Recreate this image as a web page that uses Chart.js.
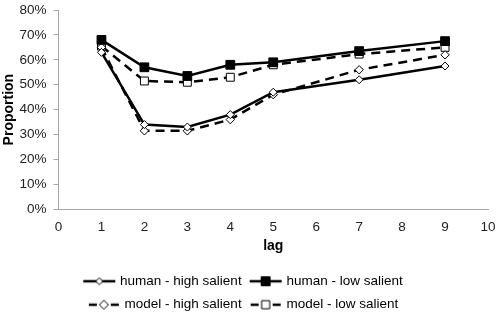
<!DOCTYPE html>
<html>
<head>
<meta charset="utf-8">
<script src="https://cdn.jsdelivr.net/npm/chart.js@4/dist/chart.umd.min.js"></script>
<style>
  html, body { margin: 0; padding: 0; background: #fff; }
  #wrap { width: 500px; height: 315px; }
</style>
</head>
<body>
<div id="wrap"><canvas id="c" width="500" height="315"></canvas></div>
<script>
const lags = [1, 2, 3, 4, 5, 7, 9];
const humanHigh = [63, 34, 33, 38, 47, 52, 57.5];
const humanLow = [68, 57, 53.5, 58, 59, 63.5, 67.5];
const modelHigh = [65, 31.5, 31.5, 36, 46, 56, 62];
const modelLow = [65.5, 51.5, 51, 53, 58, 62.3, 65];
const seriesLabels = ['human - high salient', 'human - low salient', 'model - high salient', 'model - low salient'];
const yTicks = [0, 10, 20, 30, 40, 50, 60, 70, 80];
const xTicks = [0, 1, 2, 3, 4, 5, 6, 7, 8, 9, 10];

const FONT = '"Liberation Sans", Arial, sans-serif';

function pts(vals) { return lags.map((x, i) => ({ x: x, y: vals[i] })); }

const styles = [
  { dash: [], pointStyle: 'rectRot', radius: 4, fill: '#fff' },
  { dash: [], pointStyle: 'rect', radius: 6.2, fill: '#000' },
  { dash: [9, 6], pointStyle: 'rectRot', radius: 4.2, fill: '#fff' },
  { dash: [9, 6], pointStyle: 'rect', radius: 5.6, fill: '#fff' }
];

function legendIcon(st) {
  const cv = document.createElement('canvas');
  cv.width = 34; cv.height = 14;
  const g = cv.getContext('2d');
  g.strokeStyle = '#000';
  g.lineWidth = 2.5;
  g.beginPath();
  if (st.dash.length) {
    g.moveTo(2, 7); g.lineTo(10, 7);
    g.moveTo(24, 7); g.lineTo(32, 7);
  } else {
    g.moveTo(1, 7); g.lineTo(33, 7);
  }
  g.stroke();
  g.lineWidth = 1;
  g.fillStyle = st.fill;
  g.beginPath();
  if (st.pointStyle === 'rect') {
    const s = st.radius * 0.72;
    g.rect(17 - s, 7 - s, 2 * s, 2 * s);
  } else {
    const r = st.radius < 4.1 ? 3.5 : 4.5;
    g.moveTo(17, 7 - r); g.lineTo(17 + r, 7); g.lineTo(17, 7 + r); g.lineTo(17 - r, 7); g.closePath();
  }
  g.fill();
  g.stroke();
  return cv;
}

const allVals = [humanHigh, humanLow, modelHigh, modelLow];
const datasets = allVals.map((v, i) => ({
  label: seriesLabels[i],
  data: pts(v),
  borderColor: '#000',
  borderWidth: 2.5,
  borderDash: styles[i].dash,
  pointStyle: styles[i].pointStyle,
  pointRadius: styles[i].radius,
  pointBackgroundColor: styles[i].fill,
  pointBorderColor: '#000',
  pointBorderWidth: 1,
  tension: 0,
  fill: false
}));

const icons = styles.map(legendIcon);

function noPad(ax) {
  ax.paddingTop = 0; ax.paddingBottom = 0; ax.paddingLeft = 0; ax.paddingRight = 0;
}

new Chart(document.getElementById('c'), {
  type: 'line',
  data: { datasets: datasets },
  options: {
    responsive: false,
    animation: false,
    layout: { padding: { top: 10, right: 12, bottom: -6.5, left: 0 } },
    scales: {
      x: {
        type: 'linear',
        min: 0, max: 10,
        afterBuildTicks: (ax) => { ax.ticks = xTicks.map(v => ({ value: v })); },
        afterFit: (ax) => { ax.height = 55.25; noPad(ax); },
        ticks: { color: '#222', font: { family: FONT, size: 13.5 }, padding: 9.5, maxRotation: 0 },
        grid: { display: true, drawOnChartArea: false, drawTicks: false, color: '#a6a6a6' },
        border: { display: true, color: '#a6a6a6', width: 1 },
        title: { display: true, text: 'lag', color: '#000', font: { family: FONT, size: 14, weight: 'bold' }, padding: { top: 0, bottom: 10 } }
      },
      y: {
        type: 'linear',
        min: 0, max: 80,
        afterBuildTicks: (ax) => { ax.ticks = yTicks.map(v => ({ value: v })); },
        afterFit: (ax) => { ax.width = 58.5; noPad(ax); },
        ticks: { color: '#222', font: { family: FONT, size: 13.5 }, padding: 7, callback: (v) => v + '%' },
        grid: { display: true, drawOnChartArea: false, drawTicks: true, tickLength: 5, color: '#a6a6a6' },
        border: { display: true, color: '#a6a6a6', width: 1 },
        title: { display: true, text: 'Proportion', color: '#000', font: { family: FONT, size: 14, weight: 'bold' }, padding: { top: 1, bottom: 0 } }
      }
    },
    plugins: {
      tooltip: { enabled: false },
      legend: {
        display: true,
        position: 'bottom',
        labels: {
          usePointStyle: true,
          pointStyleWidth: 28,
          padding: 10,
          color: '#000',
          font: { family: FONT, size: 13.5 },
          generateLabels: (chart) => chart.data.datasets.map((ds, i) => ({
            text: ds.label,
            pointStyle: icons[i],
            fillStyle: '#000',
            strokeStyle: '#000',
            lineWidth: 0,
            hidden: false,
            datasetIndex: i,
            fontColor: '#000'
          }))
        }
      }
    }
  }
});
</script>
</body>
</html>
